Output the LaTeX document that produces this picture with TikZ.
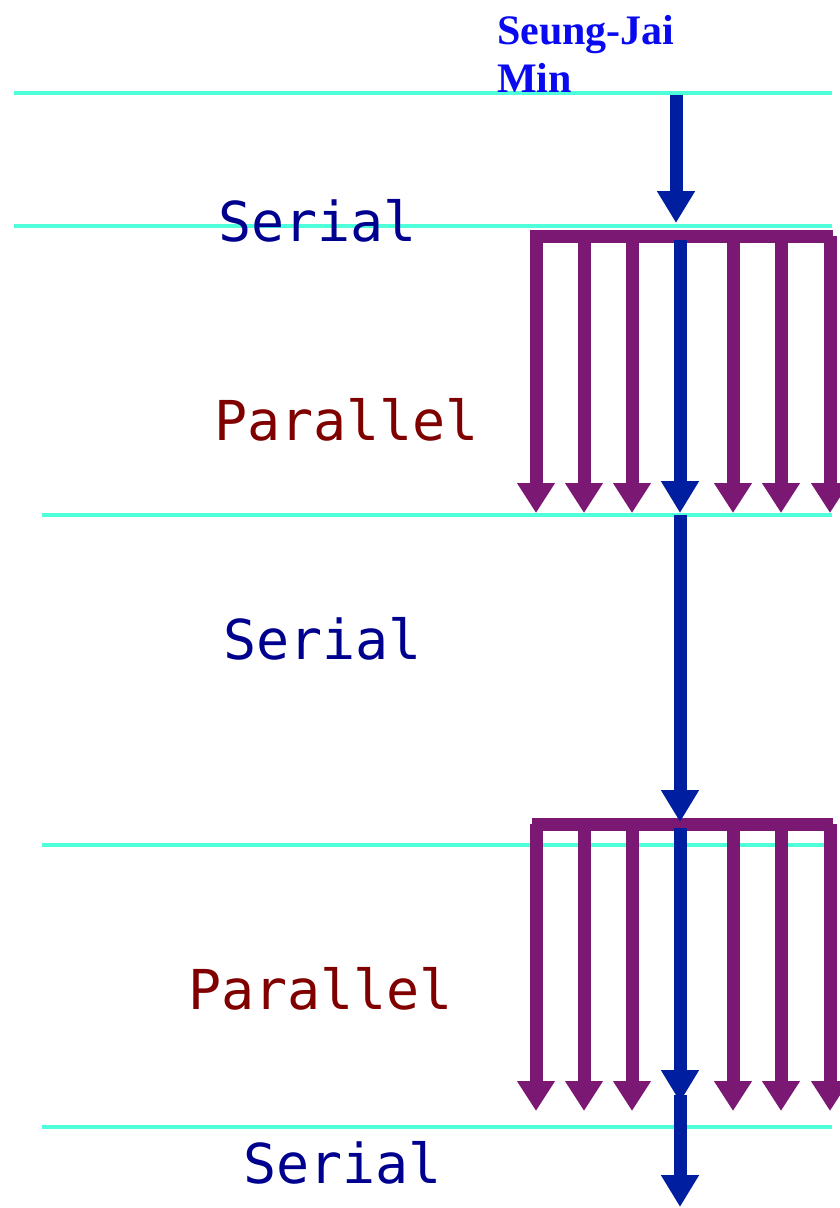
\documentclass[tikz,border=0pt]{standalone}
\usepackage{fontspec}
\setmainfont{Liberation Serif}
\newfontfamily\monofont{DejaVu Sans Mono}
\usetikzlibrary{arrows.meta}
\definecolor{cyanline}{HTML}{4FFFDA}
\definecolor{flowblue}{HTML}{001FA0}
\definecolor{flowpurple}{HTML}{7B1874}
\definecolor{serialnavy}{HTML}{00008F}
\definecolor{paralleldark}{HTML}{800000}
\definecolor{titleblue}{HTML}{0A0AF0}
\begin{document}
\begin{tikzpicture}[x=1pt,y=-1pt,
  level/.style={draw=cyanline,line width=4pt},
  serialarrow/.style={draw=flowblue,line width=13pt,-{Triangle[width=36pt,length=32pt]}},
  pararrow/.style={draw=flowpurple,line width=13pt,-{Triangle[width=36pt,length=30pt]}},
  parbar/.style={draw=flowpurple,line width=13pt},
  serialtext/.style={text=serialnavy,font=\monofont\fontsize{55}{60}\selectfont,anchor=base west,inner sep=0pt},
  paratext/.style={text=paralleldark,font=\monofont\fontsize{55}{60}\selectfont,anchor=base west,inner sep=0pt},
  titletext/.style={text=titleblue,font=\fontsize{42}{48}\selectfont\bfseries,anchor=base west,inner sep=0pt,align=left}]
\useasboundingbox (0,0) rectangle (839,1208);
% level lines
\draw[level] (14,93) -- (832,93);
\draw[level] (14,226) -- (832,226);
\draw[level] (42,515) -- (832,515);
\draw[level] (42,845) -- (832,845);
\draw[level] (42,1127) -- (832,1127);
% texts
\node[titletext] (title) at (497,92) {Seung-Jai\\Min};
\node[serialtext] (s1) at (218,241) {Serial};
\node[paratext] (p1) at (214,440) {Parallel};
\node[serialtext] (s2) at (223,659) {Serial};
\node[paratext] (p2) at (188,1009) {Parallel};
\node[serialtext] (s3) at (243,1183) {Serial};
% coordinates
\coordinate (a0) at (676,95);
\coordinate (a1) at (676,223);
% first parallel block
\draw[parbar] (530,236) -- (833,236);
\foreach \x/\n in {536/1,584/2,632/3,733/5,781/6,830/7}{
  \coordinate (t\n) at (\x,236);
  \coordinate (b\n) at (\x,513);
  \draw[pararrow] (t\n) -- (b\n);
}
% second parallel block
\draw[parbar] (532,824) -- (833,824);
\foreach \x/\n in {536/1,584/2,632/3,733/5,781/6,830/7}{
  \coordinate (u\n) at (\x,824);
  \coordinate (d\n) at (\x,1111);
  \draw[pararrow] (u\n) -- (d\n);
}
% serial (blue) flow
\coordinate (c0) at (680,240);
\coordinate (c1) at (680,513);
\coordinate (c2) at (680,515);
\coordinate (c3) at (680,822);
\coordinate (c4) at (680,828);
\coordinate (c5) at (680,1102);
\coordinate (c6) at (680,1095);
\coordinate (c7) at (680,1207);
\draw[serialarrow] (a0) -- (a1);
\draw[serialarrow] (c0) -- (c1);
\draw[serialarrow] (c2) -- (c3);
\draw[serialarrow] (c4) -- (c5);
\draw[serialarrow] (c6) -- (c7);
\end{tikzpicture}
\end{document}
